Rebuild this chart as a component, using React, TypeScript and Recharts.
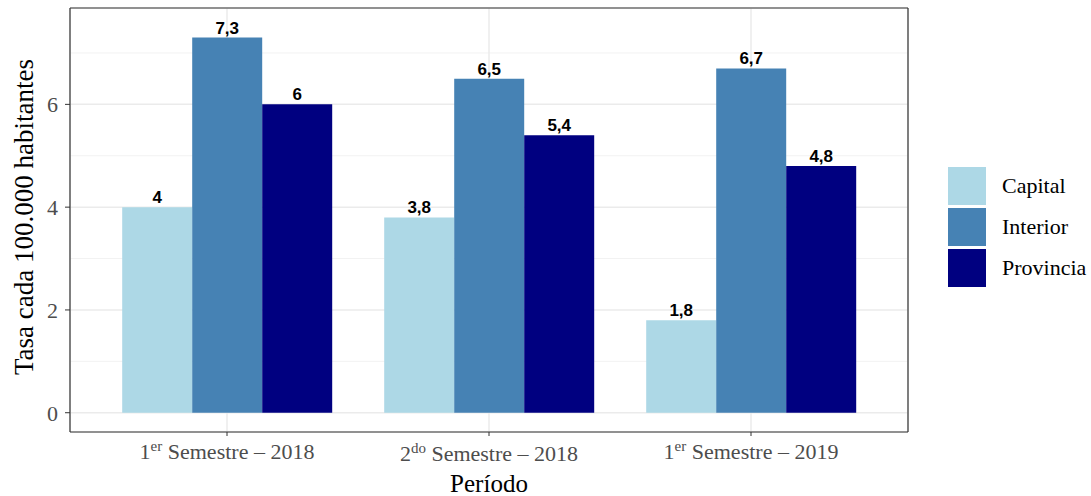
import React from 'react';
import { BarChart, Bar, XAxis, YAxis, CartesianGrid, Legend, LabelList } from 'recharts';

const periodos = ['1er Semestre – 2018', '2do Semestre – 2018', '1er Semestre – 2019'];
const capital = [4, 3.8, 1.8];
const interior = [7.3, 6.5, 6.7];
const provincia = [6, 5.4, 4.8];
const yTicks = [0, 2, 4, 6];
const yMinor = [1, 3, 5, 7];

const series = [
    { key: 'Capital', values: capital, color: '#ADD8E6' },
    { key: 'Interior', values: interior, color: '#4682B4' },
    { key: 'Provincia', values: provincia, color: '#000080' },
];

const data = periodos.map((periodo, i) => {
    const row: Record<string, string | number> = { periodo };
    series.forEach((s) => { row[s.key] = s.values[i]; });
    return row;
});

const serif = "'Liberation Serif', serif";
const sans = "'Liberation Sans', Arial, sans-serif";
const frame = '#333333';

const fmt = (v: any) => String(v).replace('.', ',');

// "1er Semestre – 2018" -> 1, superscript "er", rest
const PeriodoTick = (props: any) => {
    const { x, y, payload } = props;
    const m = /^(\d+)(\S+) (.*)$/.exec(payload.value);
    if (!m) return null;
    const drop = /[bdfhklt]/.test(m[2]) ? 2 : 0;
    return (
        <text x={x} y={y + 21 + drop} textAnchor="middle" fill="#4D4D4D" fontFamily={serif} fontSize={22}>
            <tspan>{m[1]}</tspan>
            <tspan dy={-8} fontSize={15}>{m[2]}</tspan>
            <tspan dy={8}>{' ' + m[3]}</tspan>
        </text>
    );
};

const YTitle = (props: any) => {
    const vb = props.viewBox;
    const cx = vb.x + 33;
    const cy = vb.y + vb.height / 2 - 3;
    return (
        <text x={cx} y={cy} transform={`rotate(-90 ${cx} ${cy})`} textAnchor="middle" fill="#000" fontFamily={serif} fontSize={27}>
            Tasa cada 100.000 habitantes
        </text>
    );
};

const XTitle = (props: any) => {
    const vb = props.viewBox;
    return (
        <text x={vb.x + vb.width / 2} y={vb.y + 60} textAnchor="middle" fill="#000" fontFamily={serif} fontSize={25}>
            Período
        </text>
    );
};

const renderLegend = (props: any) => (
    <div>
        {props.payload.map((entry: any) => (
            <div key={entry.value} style={{ display: 'flex', alignItems: 'center', height: 38, marginBottom: 3 }}>
                <div style={{ width: 38, height: 38, background: entry.color }} />
                <span style={{ marginLeft: 16, fontFamily: serif, fontSize: 22, color: '#000' }}>{entry.value}</span>
            </div>
        ))}
    </div>
);

const App = () => {
    return (
        <div style={{ position: 'absolute', left: 0, top: 0, width: 1091, height: 496, background: '#fff' }}>
            <BarChart
                width={1091}
                height={496}
                data={data}
                margin={{ top: 7, right: 182, bottom: 0, left: 0 }}
                barCategoryGap="10%"
                barGap={0}
            >
                <CartesianGrid horizontalValues={yMinor} vertical={false} stroke="#F2F2F2" strokeWidth={1} />
                <CartesianGrid stroke="#EBEBEB" strokeWidth={1.5} />
                <XAxis
                    dataKey="periodo"
                    height={64}
                    padding={{ left: 26, right: 26 }}
                    tick={<PeriodoTick />}
                    tickSize={4}
                    tickMargin={2}
                    tickLine={{ stroke: frame }}
                    axisLine={{ stroke: frame, strokeWidth: 1.2 }}
                    interval={0}
                    label={<XTitle />}
                />
                <XAxis
                    xAxisId="top"
                    type="number"
                    domain={[0, 1]}
                    orientation="top"
                    height={1}
                    tick={false}
                    tickLine={false}
                    axisLine={{ stroke: frame, strokeWidth: 1.2 }}
                />
                <YAxis
                    width={70}
                    domain={[-0.375, 7.875]}
                    ticks={yTicks}
                    allowDataOverflow
                    tickSize={5}
                    tickMargin={7}
                    tick={{ fill: '#4D4D4D', fontFamily: serif, fontSize: 22 }}
                    tickLine={{ stroke: frame }}
                    axisLine={{ stroke: frame, strokeWidth: 1.2 }}
                    label={<YTitle />}
                />
                <YAxis
                    yAxisId="right"
                    type="number"
                    domain={[0, 1]}
                    orientation="right"
                    width={1}
                    tick={false}
                    tickLine={false}
                    axisLine={{ stroke: frame, strokeWidth: 1.2 }}
                />
                <Legend
                    layout="vertical"
                    align="center"
                    verticalAlign="middle"
                    content={renderLegend}
                    wrapperStyle={{ left: 948, top: 167, width: 143 }}
                />
                {series.map((s) => (
                    <Bar key={s.key} dataKey={s.key} name={s.key} fill={s.color} isAnimationActive={false}>
                        <LabelList
                            dataKey={s.key}
                            position="top"
                            offset={4}
                            formatter={fmt}
                            fill="#000"
                            fontFamily={sans}
                            fontWeight="bold"
                            fontSize={17}
                        />
                    </Bar>
                ))}
            </BarChart>
        </div>
    );
};

export default App;
